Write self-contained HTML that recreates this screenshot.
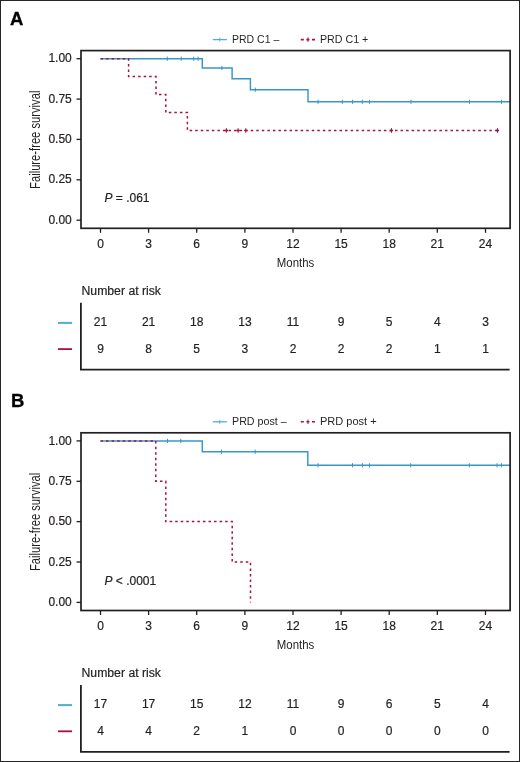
<!DOCTYPE html>
<html><head><meta charset="utf-8"><style>
html,body{margin:0;padding:0;background:#fff;}
svg{display:block;will-change:transform;}
text{font-family:"Liberation Sans", sans-serif;fill:#231f20;stroke:#231f20;stroke-width:0.2px;}
</style></head><body>
<svg width="520" height="762" viewBox="0 0 520 762">
<rect x="0.5" y="0.5" width="519" height="761" fill="#fff" stroke="#262626" stroke-width="1"/>
<text x="10" y="24.6" font-size="18.5" font-weight="bold" style="fill:#000;stroke:#000;stroke-width:0.3px">A</text>
<line x1="212.8" y1="39.6" x2="226.9" y2="39.6" stroke="#50aecb" stroke-width="1.3"/>
<line x1="219.8" y1="37.6" x2="219.8" y2="41.6" stroke="#50aecb" stroke-width="0.9"/>
<text x="232" y="42.9" font-size="11" style="stroke:none" textLength="47.3" lengthAdjust="spacingAndGlyphs">PRD C1 –</text>
<line x1="300.8" y1="39.6" x2="315.2" y2="39.6" stroke="#a81238" stroke-width="1.6" stroke-dasharray="3 2.6"/>
<line x1="308" y1="37.4" x2="308" y2="41.8" stroke="#a81238" stroke-width="1"/>
<text x="320" y="42.9" font-size="11" style="stroke:none" textLength="48.3" lengthAdjust="spacingAndGlyphs">PRD C1 +</text>
<path d="M100.5,58.7 H202.3 V67.9 H232.1 V78.7 H250.4 V89.7 H308.0 V101.8 H510.0 V101.8" fill="none" stroke="#3896c8" stroke-width="1.45"/>
<line x1="167.3" y1="56.6" x2="167.3" y2="60.8" stroke="#3896c8" stroke-width="1"/>
<line x1="181.2" y1="56.6" x2="181.2" y2="60.8" stroke="#3896c8" stroke-width="1"/>
<line x1="193.7" y1="56.6" x2="193.7" y2="60.8" stroke="#3896c8" stroke-width="1"/>
<line x1="198.1" y1="56.6" x2="198.1" y2="60.8" stroke="#3896c8" stroke-width="1"/>
<line x1="221.9" y1="65.8" x2="221.9" y2="70.0" stroke="#3896c8" stroke-width="1"/>
<line x1="255.3" y1="87.6" x2="255.3" y2="91.8" stroke="#3896c8" stroke-width="1"/>
<line x1="318" y1="99.7" x2="318" y2="103.9" stroke="#3896c8" stroke-width="1"/>
<line x1="342.3" y1="99.7" x2="342.3" y2="103.9" stroke="#3896c8" stroke-width="1"/>
<line x1="352.6" y1="99.7" x2="352.6" y2="103.9" stroke="#3896c8" stroke-width="1"/>
<line x1="362.3" y1="99.7" x2="362.3" y2="103.9" stroke="#3896c8" stroke-width="1"/>
<line x1="369.5" y1="99.7" x2="369.5" y2="103.9" stroke="#3896c8" stroke-width="1"/>
<line x1="411" y1="99.7" x2="411" y2="103.9" stroke="#3896c8" stroke-width="1"/>
<line x1="469.5" y1="99.7" x2="469.5" y2="103.9" stroke="#3896c8" stroke-width="1"/>
<line x1="501.5" y1="99.7" x2="501.5" y2="103.9" stroke="#3896c8" stroke-width="1"/>
<path d="M100.5,58.7 H128.6 V76.6 H156.0 V94.6 H165.8 V112.5 H187.4 V130.5 H498.0 V130.5" fill="none" stroke="#a81238" stroke-width="1.5" stroke-dasharray="2.5 3.05"/>
<line x1="226.4" y1="128.2" x2="226.4" y2="132.8" stroke="#a81238" stroke-width="1"/>
<line x1="224.8" y1="130.5" x2="228.0" y2="130.5" stroke="#a81238" stroke-width="1.6"/>
<line x1="238.1" y1="128.2" x2="238.1" y2="132.8" stroke="#a81238" stroke-width="1"/>
<line x1="236.5" y1="130.5" x2="239.7" y2="130.5" stroke="#a81238" stroke-width="1.6"/>
<line x1="245.8" y1="128.2" x2="245.8" y2="132.8" stroke="#a81238" stroke-width="1"/>
<line x1="244.20000000000002" y1="130.5" x2="247.4" y2="130.5" stroke="#a81238" stroke-width="1.6"/>
<line x1="391.5" y1="128.2" x2="391.5" y2="132.8" stroke="#a81238" stroke-width="1"/>
<line x1="389.9" y1="130.5" x2="393.1" y2="130.5" stroke="#a81238" stroke-width="1.6"/>
<line x1="497.5" y1="128.2" x2="497.5" y2="132.8" stroke="#a81238" stroke-width="1"/>
<line x1="495.9" y1="130.5" x2="499.1" y2="130.5" stroke="#a81238" stroke-width="1.6"/>
<rect x="81" y="50.6" width="429.1" height="177.7" fill="none" stroke="#231f20" stroke-width="1.7"/>
<line x1="76.5" y1="58.7" x2="81" y2="58.7" stroke="#231f20" stroke-width="1.3"/>
<text x="71.8" y="62.3" font-size="12" text-anchor="end">1.00</text>
<line x1="76.5" y1="99.1" x2="81" y2="99.1" stroke="#231f20" stroke-width="1.3"/>
<text x="71.8" y="102.7" font-size="12" text-anchor="end">0.75</text>
<line x1="76.5" y1="139.4" x2="81" y2="139.4" stroke="#231f20" stroke-width="1.3"/>
<text x="71.8" y="143.0" font-size="12" text-anchor="end">0.50</text>
<line x1="76.5" y1="179.8" x2="81" y2="179.8" stroke="#231f20" stroke-width="1.3"/>
<text x="71.8" y="183.4" font-size="12" text-anchor="end">0.25</text>
<line x1="76.5" y1="220.2" x2="81" y2="220.2" stroke="#231f20" stroke-width="1.3"/>
<text x="71.8" y="223.8" font-size="12" text-anchor="end">0.00</text>
<line x1="100.5" y1="228.5" x2="100.5" y2="232.8" stroke="#231f20" stroke-width="1.3"/>
<text x="100.5" y="247.5" font-size="12" text-anchor="middle">0</text>
<line x1="148.6" y1="228.5" x2="148.6" y2="232.8" stroke="#231f20" stroke-width="1.3"/>
<text x="148.6" y="247.5" font-size="12" text-anchor="middle">3</text>
<line x1="196.7" y1="228.5" x2="196.7" y2="232.8" stroke="#231f20" stroke-width="1.3"/>
<text x="196.7" y="247.5" font-size="12" text-anchor="middle">6</text>
<line x1="244.9" y1="228.5" x2="244.9" y2="232.8" stroke="#231f20" stroke-width="1.3"/>
<text x="244.9" y="247.5" font-size="12" text-anchor="middle">9</text>
<line x1="293.0" y1="228.5" x2="293.0" y2="232.8" stroke="#231f20" stroke-width="1.3"/>
<text x="293.0" y="247.5" font-size="12" text-anchor="middle">12</text>
<line x1="341.1" y1="228.5" x2="341.1" y2="232.8" stroke="#231f20" stroke-width="1.3"/>
<text x="341.1" y="247.5" font-size="12" text-anchor="middle">15</text>
<line x1="389.2" y1="228.5" x2="389.2" y2="232.8" stroke="#231f20" stroke-width="1.3"/>
<text x="389.2" y="247.5" font-size="12" text-anchor="middle">18</text>
<line x1="437.3" y1="228.5" x2="437.3" y2="232.8" stroke="#231f20" stroke-width="1.3"/>
<text x="437.3" y="247.5" font-size="12" text-anchor="middle">21</text>
<line x1="485.5" y1="228.5" x2="485.5" y2="232.8" stroke="#231f20" stroke-width="1.3"/>
<text x="485.5" y="247.5" font-size="12" text-anchor="middle">24</text>
<text x="276.8" y="267.0" font-size="13.6" style="stroke:none" textLength="37.5" lengthAdjust="spacingAndGlyphs">Months</text>
<text transform="translate(40.2,188.9) rotate(-90)" x="0" y="0" font-size="14" style="stroke:none" textLength="98.3" lengthAdjust="spacingAndGlyphs">Failure-free survival</text>
<text x="104.5" y="202.3" font-size="12"><tspan font-style="italic">P</tspan> = .061</text>
<text x="81.5" y="294.7" font-size="12" textLength="79.5" lengthAdjust="spacingAndGlyphs">Number at risk</text>
<path d="M80.9,302.8 V369.6 H509.6" fill="none" stroke="#231f20" stroke-width="1.8"/>
<line x1="58" y1="322.9" x2="72" y2="322.9" stroke="#50aecb" stroke-width="2"/>
<line x1="58" y1="349.1" x2="72" y2="349.1" stroke="#a81238" stroke-width="1.8"/>
<text x="100.5" y="326.2" font-size="12" text-anchor="middle">21</text>
<text x="148.6" y="326.2" font-size="12" text-anchor="middle">21</text>
<text x="196.7" y="326.2" font-size="12" text-anchor="middle">18</text>
<text x="244.9" y="326.2" font-size="12" text-anchor="middle">13</text>
<text x="293.0" y="326.2" font-size="12" text-anchor="middle">11</text>
<text x="341.1" y="326.2" font-size="12" text-anchor="middle">9</text>
<text x="389.2" y="326.2" font-size="12" text-anchor="middle">5</text>
<text x="437.3" y="326.2" font-size="12" text-anchor="middle">4</text>
<text x="485.5" y="326.2" font-size="12" text-anchor="middle">3</text>
<text x="100.5" y="352.7" font-size="12" text-anchor="middle">9</text>
<text x="148.6" y="352.7" font-size="12" text-anchor="middle">8</text>
<text x="196.7" y="352.7" font-size="12" text-anchor="middle">5</text>
<text x="244.9" y="352.7" font-size="12" text-anchor="middle">3</text>
<text x="293.0" y="352.7" font-size="12" text-anchor="middle">2</text>
<text x="341.1" y="352.7" font-size="12" text-anchor="middle">2</text>
<text x="389.2" y="352.7" font-size="12" text-anchor="middle">2</text>
<text x="437.3" y="352.7" font-size="12" text-anchor="middle">1</text>
<text x="485.5" y="352.7" font-size="12" text-anchor="middle">1</text>
<text x="11" y="406.8" font-size="18.5" font-weight="bold" style="fill:#000;stroke:#000;stroke-width:0.3px">B</text>
<line x1="212.8" y1="421.8" x2="226.9" y2="421.8" stroke="#50aecb" stroke-width="1.3"/>
<line x1="219.8" y1="419.8" x2="219.8" y2="423.8" stroke="#50aecb" stroke-width="0.9"/>
<text x="232" y="425.1" font-size="11" style="stroke:none" textLength="54.7" lengthAdjust="spacingAndGlyphs">PRD post –</text>
<line x1="300.8" y1="421.8" x2="315.2" y2="421.8" stroke="#a81238" stroke-width="1.6" stroke-dasharray="3 2.6"/>
<line x1="308" y1="419.6" x2="308" y2="424.0" stroke="#a81238" stroke-width="1"/>
<text x="320" y="425.1" font-size="11" style="stroke:none" textLength="56.7" lengthAdjust="spacingAndGlyphs">PRD post +</text>
<path d="M100.5,440.9 H202.3 V451.7 H307.8 V465.3 H510.0 V465.3" fill="none" stroke="#3896c8" stroke-width="1.45"/>
<line x1="167.5" y1="438.8" x2="167.5" y2="443.0" stroke="#3896c8" stroke-width="1"/>
<line x1="180.8" y1="438.8" x2="180.8" y2="443.0" stroke="#3896c8" stroke-width="1"/>
<line x1="221.5" y1="449.6" x2="221.5" y2="453.8" stroke="#3896c8" stroke-width="1"/>
<line x1="255.2" y1="449.6" x2="255.2" y2="453.8" stroke="#3896c8" stroke-width="1"/>
<line x1="318" y1="463.2" x2="318" y2="467.4" stroke="#3896c8" stroke-width="1"/>
<line x1="352.5" y1="463.2" x2="352.5" y2="467.4" stroke="#3896c8" stroke-width="1"/>
<line x1="362.4" y1="463.2" x2="362.4" y2="467.4" stroke="#3896c8" stroke-width="1"/>
<line x1="369.4" y1="463.2" x2="369.4" y2="467.4" stroke="#3896c8" stroke-width="1"/>
<line x1="410.7" y1="463.2" x2="410.7" y2="467.4" stroke="#3896c8" stroke-width="1"/>
<line x1="469.3" y1="463.2" x2="469.3" y2="467.4" stroke="#3896c8" stroke-width="1"/>
<line x1="497" y1="463.2" x2="497" y2="467.4" stroke="#3896c8" stroke-width="1"/>
<line x1="501.4" y1="463.2" x2="501.4" y2="467.4" stroke="#3896c8" stroke-width="1"/>
<path d="M100.5,440.9 H155.8 V481.3 H165.8 V521.6 H232.2 V562.0 H250.5 V602.4" fill="none" stroke="#a81238" stroke-width="1.5" stroke-dasharray="2.5 3.05"/>
<rect x="81" y="432.8" width="429.1" height="177.7" fill="none" stroke="#231f20" stroke-width="1.7"/>
<line x1="76.5" y1="440.9" x2="81" y2="440.9" stroke="#231f20" stroke-width="1.3"/>
<text x="71.8" y="444.5" font-size="12" text-anchor="end">1.00</text>
<line x1="76.5" y1="481.3" x2="81" y2="481.3" stroke="#231f20" stroke-width="1.3"/>
<text x="71.8" y="484.9" font-size="12" text-anchor="end">0.75</text>
<line x1="76.5" y1="521.6" x2="81" y2="521.6" stroke="#231f20" stroke-width="1.3"/>
<text x="71.8" y="525.2" font-size="12" text-anchor="end">0.50</text>
<line x1="76.5" y1="562.0" x2="81" y2="562.0" stroke="#231f20" stroke-width="1.3"/>
<text x="71.8" y="565.6" font-size="12" text-anchor="end">0.25</text>
<line x1="76.5" y1="602.4" x2="81" y2="602.4" stroke="#231f20" stroke-width="1.3"/>
<text x="71.8" y="606.0" font-size="12" text-anchor="end">0.00</text>
<line x1="100.5" y1="610.7" x2="100.5" y2="615.0" stroke="#231f20" stroke-width="1.3"/>
<text x="100.5" y="629.7" font-size="12" text-anchor="middle">0</text>
<line x1="148.6" y1="610.7" x2="148.6" y2="615.0" stroke="#231f20" stroke-width="1.3"/>
<text x="148.6" y="629.7" font-size="12" text-anchor="middle">3</text>
<line x1="196.7" y1="610.7" x2="196.7" y2="615.0" stroke="#231f20" stroke-width="1.3"/>
<text x="196.7" y="629.7" font-size="12" text-anchor="middle">6</text>
<line x1="244.9" y1="610.7" x2="244.9" y2="615.0" stroke="#231f20" stroke-width="1.3"/>
<text x="244.9" y="629.7" font-size="12" text-anchor="middle">9</text>
<line x1="293.0" y1="610.7" x2="293.0" y2="615.0" stroke="#231f20" stroke-width="1.3"/>
<text x="293.0" y="629.7" font-size="12" text-anchor="middle">12</text>
<line x1="341.1" y1="610.7" x2="341.1" y2="615.0" stroke="#231f20" stroke-width="1.3"/>
<text x="341.1" y="629.7" font-size="12" text-anchor="middle">15</text>
<line x1="389.2" y1="610.7" x2="389.2" y2="615.0" stroke="#231f20" stroke-width="1.3"/>
<text x="389.2" y="629.7" font-size="12" text-anchor="middle">18</text>
<line x1="437.3" y1="610.7" x2="437.3" y2="615.0" stroke="#231f20" stroke-width="1.3"/>
<text x="437.3" y="629.7" font-size="12" text-anchor="middle">21</text>
<line x1="485.5" y1="610.7" x2="485.5" y2="615.0" stroke="#231f20" stroke-width="1.3"/>
<text x="485.5" y="629.7" font-size="12" text-anchor="middle">24</text>
<text x="276.8" y="649.2" font-size="13.6" style="stroke:none" textLength="37.5" lengthAdjust="spacingAndGlyphs">Months</text>
<text transform="translate(40.2,571.1) rotate(-90)" x="0" y="0" font-size="14" style="stroke:none" textLength="98.3" lengthAdjust="spacingAndGlyphs">Failure-free survival</text>
<text x="104.5" y="584.5" font-size="12"><tspan font-style="italic">P</tspan> &lt; .0001</text>
<text x="81.5" y="676.9" font-size="12" textLength="79.5" lengthAdjust="spacingAndGlyphs">Number at risk</text>
<path d="M80.9,685.0 V751.8 H509.6" fill="none" stroke="#231f20" stroke-width="1.8"/>
<line x1="58" y1="705.1" x2="72" y2="705.1" stroke="#50aecb" stroke-width="2"/>
<line x1="58" y1="731.3" x2="72" y2="731.3" stroke="#a81238" stroke-width="1.8"/>
<text x="100.5" y="708.4" font-size="12" text-anchor="middle">17</text>
<text x="148.6" y="708.4" font-size="12" text-anchor="middle">17</text>
<text x="196.7" y="708.4" font-size="12" text-anchor="middle">15</text>
<text x="244.9" y="708.4" font-size="12" text-anchor="middle">12</text>
<text x="293.0" y="708.4" font-size="12" text-anchor="middle">11</text>
<text x="341.1" y="708.4" font-size="12" text-anchor="middle">9</text>
<text x="389.2" y="708.4" font-size="12" text-anchor="middle">6</text>
<text x="437.3" y="708.4" font-size="12" text-anchor="middle">5</text>
<text x="485.5" y="708.4" font-size="12" text-anchor="middle">4</text>
<text x="100.5" y="734.9" font-size="12" text-anchor="middle">4</text>
<text x="148.6" y="734.9" font-size="12" text-anchor="middle">4</text>
<text x="196.7" y="734.9" font-size="12" text-anchor="middle">2</text>
<text x="244.9" y="734.9" font-size="12" text-anchor="middle">1</text>
<text x="293.0" y="734.9" font-size="12" text-anchor="middle">0</text>
<text x="341.1" y="734.9" font-size="12" text-anchor="middle">0</text>
<text x="389.2" y="734.9" font-size="12" text-anchor="middle">0</text>
<text x="437.3" y="734.9" font-size="12" text-anchor="middle">0</text>
<text x="485.5" y="734.9" font-size="12" text-anchor="middle">0</text>
</svg>
</body></html>
